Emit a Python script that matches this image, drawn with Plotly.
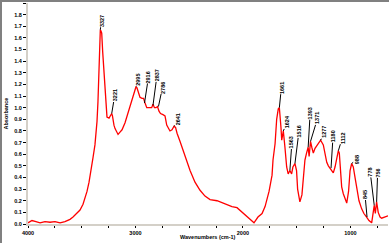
import plotly.graph_objects as go

# ---- spectrum data ----
wavenumber = [4000, 3963, 3926, 3888, 3842, 3795, 3749, 3702, 3656, 3628, 3609, 3581, 3544, 3516,
              3488, 3470, 3451, 3432, 3414, 3395, 3377, 3367, 3358, 3349, 3344, 3339, 3333, 3327,
              3321, 3314, 3305, 3293, 3283, 3274, 3265, 3246, 3232, 3221, 3214, 3209, 3200, 3190,
              3176, 3162, 3144, 3125, 3097, 3069, 3041, 3022, 3004, 2995, 2986, 2972, 2958, 2939,
              2925, 2911, 2895, 2874, 2849, 2837, 2823, 2809, 2795, 2781, 2767, 2744, 2725, 2709,
              2692, 2679, 2660, 2641, 2627, 2613, 2585, 2539, 2492, 2446, 2399, 2353, 2306, 2241,
              2167, 2102, 2055, 2009, 1971, 1934, 1897, 1860, 1822, 1794, 1776, 1757, 1743, 1729,
              1720, 1701, 1686, 1671, 1661, 1652, 1646, 1639, 1624, 1609, 1593, 1579, 1563, 1547,
              1535, 1516, 1501, 1491, 1470, 1451, 1439, 1423, 1408, 1393, 1384, 1371, 1359, 1345,
              1329, 1298, 1277, 1252, 1236, 1220, 1205, 1190, 1174, 1159, 1143, 1127, 1112, 1103,
              1090, 1081, 1066, 1034, 1017, 1003, 988, 973, 957, 941, 920, 895, 874, 849, 827, 802,
              790, 778, 768, 756, 741, 724, 709, 687, 660, 650]
absorbance = [0.01, 0.03, 0.02, 0.01, 0.02, 0.015, 0.02, 0.01, 0.02, 0.03, 0.04, 0.06, 0.09, 0.12,
              0.17, 0.22, 0.28, 0.36, 0.45, 0.57, 0.68, 0.76, 0.88, 1.05, 1.21, 1.41, 1.58, 1.67,
              1.66, 1.64, 1.48, 1.31, 1.09, 0.97, 0.92, 0.91, 0.93, 0.95, 0.93, 0.89, 0.85, 0.82,
              0.79, 0.77, 0.79, 0.81, 0.87, 0.95, 1.03, 1.09, 1.14, 1.18, 1.17, 1.13, 1.09, 1.08,
              1.08, 1.04, 1.00, 1.00, 1.00, 1.03, 1.00, 1.00, 1.01, 0.97, 0.95, 0.94, 0.93, 0.85,
              0.82, 0.80, 0.81, 0.84, 0.83, 0.78, 0.71, 0.58, 0.46, 0.36, 0.29, 0.24, 0.21, 0.20,
              0.17, 0.15, 0.14, 0.10, 0.07, 0.04, 0.01, 0.06, 0.09, 0.15, 0.21, 0.28, 0.35, 0.42,
              0.55, 0.69, 0.90, 0.99, 1.00, 0.92, 0.83, 0.72, 0.80, 0.66, 0.49, 0.43, 0.46, 0.43,
              0.49, 0.52, 0.46, 0.30, 0.19, 0.25, 0.38, 0.55, 0.61, 0.66, 0.58, 0.71, 0.66, 0.61,
              0.65, 0.69, 0.72, 0.68, 0.61, 0.53, 0.50, 0.48, 0.45, 0.44, 0.49, 0.55, 0.63, 0.61,
              0.46, 0.32, 0.26, 0.18, 0.28, 0.46, 0.52, 0.49, 0.40, 0.32, 0.20, 0.13, 0.09, 0.06,
              0.03, 0.01, 0.08, 0.16, 0.09, 0.19, 0.10, 0.06, 0.05, 0.06, 0.07, 0.07]

# ---- peak labels ----
peak_labels = ["3327", "3221", "2995", "2916", "2837", "2786", "2641", "1661", "1624", "1563",
               "1516", "1393", "1371", "1277", "1180", "1112", "988", "845", "778", "756"]
peak_wn = [3327, 3221, 2995, 2916, 2837, 2786, 2641, 1661, 1624, 1563,
           1516, 1393, 1371, 1277, 1180, 1112, 988, 845, 778, 756]
peak_abs = [1.67, 0.95, 1.18, 1.04, 1.02, 1.01, 0.84, 1.00, 0.80, 0.46,
            0.52, 0.66, 0.71, 0.72, 0.48, 0.63, 0.52, 0.06, 0.16, 0.19]
# label offsets in pixels (layout only)
label_dx = [1, 3, 2, 4, 4, 4, 4, 2, 4, 2, 4, 2, 7, 4, 2, 4, 5, -2, -4, 1]
label_dy = [-9, -18, -7, -26, -30, -19, -7, -20, -9, -28, -32, -34, -23, -8, -32, -13, -4, -22, -33, -29]

xticks = [4000, 3000, 2000, 1000]
yticks = [round(0.1 * i, 1) for i in range(20)]

fig = go.Figure()
fig.add_trace(go.Scatter(x=wavenumber, y=absorbance, mode="lines",
                         line=dict(color="#ff0000", width=1.3), showlegend=False,
                         hoverinfo="skip"))

lab_font = dict(family="Arial", size=5.5, color="black", weight="bold")
for t, px, py, dx, dy in zip(peak_labels, peak_wn, peak_abs, label_dx, label_dy):
    fig.add_annotation(x=px, y=py, text=t, textangle=-90, showarrow=True,
                       arrowhead=0, arrowwidth=1, arrowcolor="black", ax=dx, ay=dy,
                       standoff=0, borderpad=0, font=lab_font)

W, H = 389, 243
L, R, T, B = 28, 1, 3, 19
pw, ph = W - L - R, H - T - B
# grey window borders (top and left)
fig.add_shape(type="rect", xref="paper", yref="paper", x0=-L / pw, x1=(-L + 2) / pw,
              y0=-B / ph, y1=1 + T / ph, fillcolor="#808080", line_width=0, layer="above")
fig.add_shape(type="rect", xref="paper", yref="paper", x0=-L / pw, x1=1 + R / pw,
              y0=1 + (T - 2) / ph, y1=1 + T / ph, fillcolor="#808080", line_width=0, layer="above")

tick_font = dict(family="Arial", size=5.5, color="black", weight="bold")
# axis titles
fig.add_annotation(text="Wavenumbers (cm-1)", xref="paper", yref="paper", x=0.5, y=-13 / ph,
                   xanchor="center", yanchor="middle", showarrow=False, font=tick_font)
fig.add_annotation(text="Absorbance", xref="paper", yref="paper", x=(5 - L) / pw, y=0.5,
                   xanchor="center", yanchor="middle", textangle=-90, showarrow=False,
                   font=tick_font)

fig.update_layout(
    width=W, height=H, margin=dict(l=L, r=R, t=T, b=B),
    paper_bgcolor="white", plot_bgcolor="white",
    xaxis=dict(range=[4000, 650], tickvals=xticks, ticktext=[str(v) for v in xticks],
               ticks="outside", ticklen=2, tickcolor="black", tickwidth=1, automargin=False,
               showline=True, linecolor="#d4d0c8", linewidth=2, showgrid=False, zeroline=False,
               minor=dict(dtick=250, tick0=4000, ticks="outside", ticklen=2, tickcolor="black"),
               tickfont=tick_font),
    yaxis=dict(range=[0, 1.9], tickvals=yticks, ticktext=[f"{v:.1f}" for v in yticks],
               ticks="outside", ticklen=3, tickcolor="black", tickwidth=1, automargin=False,
               showline=True, linecolor="#d4d0c8", linewidth=2, showgrid=False, zeroline=False,
               tickfont=tick_font),
)

fig.write_html("out.html")
